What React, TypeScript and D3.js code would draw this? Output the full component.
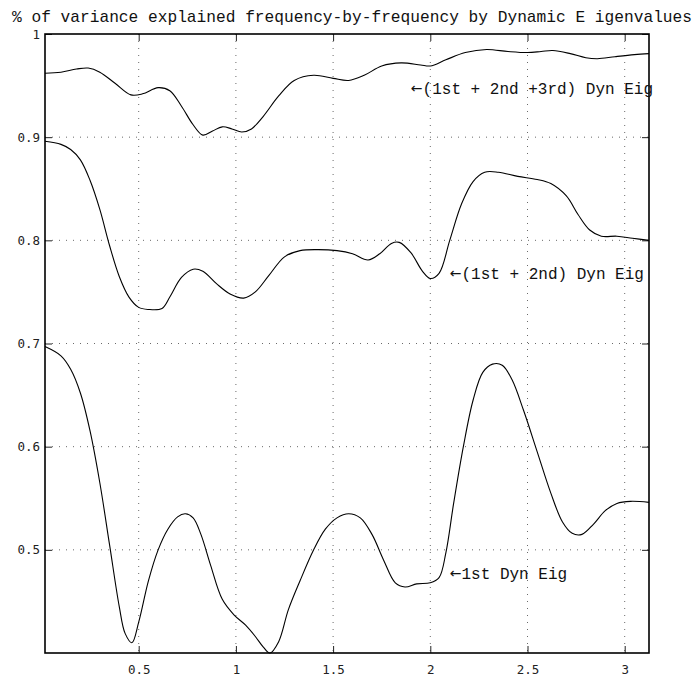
import React, { useEffect, useRef } from 'react';
import * as d3 from 'd3';

// frequencies (rad) and the cumulative % of variance for each curve
const freq1 = [0.018, 0.10, 0.15, 0.20, 0.25, 0.30, 0.35, 0.40, 0.43, 0.465, 0.50, 0.55, 0.60, 0.65, 0.70, 0.74, 0.78, 0.82, 0.87, 0.93, 0.99, 1.05, 1.10, 1.14, 1.175, 1.22, 1.27, 1.33, 1.40, 1.46, 1.52, 1.58, 1.64, 1.70, 1.76, 1.82, 1.87, 1.93, 2.00, 2.045, 2.08, 2.12, 2.17, 2.22, 2.27, 2.32, 2.37, 2.42, 2.48, 2.55, 2.62, 2.68, 2.73, 2.78, 2.84, 2.90, 2.96, 3.03, 3.125];
const eig1 = [0.697, 0.688, 0.675, 0.652, 0.615, 0.565, 0.505, 0.445, 0.419, 0.410, 0.430, 0.470, 0.500, 0.520, 0.532, 0.535, 0.531, 0.515, 0.485, 0.452, 0.437, 0.427, 0.416, 0.406, 0.400, 0.411, 0.442, 0.470, 0.500, 0.520, 0.531, 0.535, 0.531, 0.515, 0.490, 0.468, 0.464, 0.467, 0.468, 0.473, 0.497, 0.545, 0.600, 0.645, 0.672, 0.680, 0.679, 0.665, 0.635, 0.595, 0.555, 0.527, 0.516, 0.515, 0.525, 0.538, 0.545, 0.547, 0.546];

const freq2 = [0.018, 0.10, 0.15, 0.20, 0.25, 0.30, 0.35, 0.40, 0.45, 0.50, 0.55, 0.62, 0.66, 0.72, 0.78, 0.83, 0.90, 0.97, 1.04, 1.10, 1.17, 1.25, 1.33, 1.42, 1.52, 1.60, 1.68, 1.74, 1.80, 1.84, 1.90, 1.96, 2.00, 2.045, 2.10, 2.16, 2.22, 2.28, 2.35, 2.45, 2.55, 2.62, 2.70, 2.76, 2.82, 2.88, 2.96, 3.04, 3.125];
const eig12 = [0.896, 0.893, 0.888, 0.878, 0.858, 0.830, 0.795, 0.765, 0.745, 0.735, 0.733, 0.734, 0.745, 0.764, 0.772, 0.770, 0.758, 0.748, 0.744, 0.750, 0.766, 0.784, 0.790, 0.791, 0.790, 0.787, 0.781, 0.787, 0.797, 0.798, 0.788, 0.770, 0.763, 0.768, 0.800, 0.835, 0.857, 0.866, 0.866, 0.862, 0.859, 0.855, 0.843, 0.825, 0.810, 0.804, 0.804, 0.802, 0.800];

const freq3 = [0.018, 0.10, 0.18, 0.24, 0.30, 0.38, 0.46, 0.52, 0.60, 0.66, 0.72, 0.78, 0.83, 0.88, 0.93, 0.98, 1.03, 1.08, 1.14, 1.22, 1.30, 1.40, 1.50, 1.58, 1.66, 1.75, 1.85, 1.95, 2.00, 2.08, 2.18, 2.29, 2.40, 2.50, 2.57, 2.63, 2.72, 2.80, 2.86, 2.95, 3.05, 3.125];
const eig123 = [0.962, 0.963, 0.966, 0.967, 0.963, 0.952, 0.941, 0.942, 0.948, 0.945, 0.930, 0.912, 0.902, 0.906, 0.910, 0.908, 0.905, 0.908, 0.920, 0.940, 0.955, 0.960, 0.957, 0.955, 0.960, 0.969, 0.972, 0.970, 0.969, 0.975, 0.982, 0.985, 0.983, 0.982, 0.983, 0.984, 0.981, 0.977, 0.976, 0.978, 0.980, 0.981];

const xTicks = [0.5, 1, 1.5, 2, 2.5, 3];
const yTicks = [0.5, 0.6, 0.7, 0.8, 0.9, 1];

const labels = [
  { text: '(1st + 2nd +3rd) Dyn Eig', x: 1.90, y: 0.942 },
  { text: '(1st + 2nd) Dyn Eig', x: 2.10, y: 0.763 },
  { text: '1st Dyn Eig', x: 2.10, y: 0.472 },
];

const title = '% of variance explained frequency-by-frequency by Dynamic E igenvalues';

const App = () => {
  const chartRef = useRef<SVGSVGElement>(null);

  useEffect(() => {
    const svg = d3.select(chartRef.current);
    svg.selectAll('*').remove();

    const left = 45, right = 649, top = 34, bottom = 653;
    const x = d3.scaleLinear().domain([0.018, 3.125]).range([left, right]);
    const y = d3.scaleLinear().domain([0.4, 1]).range([bottom, top]);

    svg.append('rect').attr('width', 695).attr('height', 680).attr('fill', 'white');

    // dotted grid
    svg.append('g').selectAll('line').data(xTicks).enter().append('line')
      .attr('x1', d => x(d)).attr('x2', d => x(d))
      .attr('y1', top).attr('y2', bottom)
      .attr('stroke', '#444').attr('stroke-width', 0.8)
      .attr('stroke-dasharray', '1,6');
    svg.append('g').selectAll('line').data(yTicks.filter(d => d < 1)).enter().append('line')
      .attr('y1', d => y(d)).attr('y2', d => y(d))
      .attr('x1', left).attr('x2', right)
      .attr('stroke', '#444').attr('stroke-width', 0.8)
      .attr('stroke-dasharray', '1,6');

    // axes: inward ticks on all four sides
    const tick = 7;
    const axisFont = "'DejaVu Sans Mono', monospace";
    const bottomAxis = svg.append('g').attr('transform', `translate(0,${bottom})`)
      .call(d3.axisBottom(x).tickValues(xTicks).tickSizeInner(-tick).tickSizeOuter(0).tickPadding(12).tickFormat(d3.format('')));
    const leftAxis = svg.append('g').attr('transform', `translate(${left},0)`)
      .call(d3.axisLeft(y).tickValues(yTicks).tickSizeInner(-tick).tickSizeOuter(0).tickPadding(5).tickFormat(d3.format('')));
    svg.append('g').attr('transform', `translate(0,${top})`)
      .call(d3.axisTop(x).tickValues(xTicks).tickSizeInner(-tick).tickSizeOuter(0).tickFormat(() => ''));
    svg.append('g').attr('transform', `translate(${right},0)`)
      .call(d3.axisRight(y).tickValues(yTicks).tickSizeInner(-tick).tickSizeOuter(0).tickFormat(() => ''));
    svg.selectAll('.domain').remove();
    svg.selectAll('.tick line').attr('stroke', '#222');
    [bottomAxis, leftAxis].forEach(a => a.selectAll('text')
      .style('font-family', axisFont).style('font-size', '12.5px').attr('fill', '#222'));

    svg.append('rect')
      .attr('x', left).attr('y', top)
      .attr('width', right - left).attr('height', bottom - top)
      .attr('fill', 'none').attr('stroke', 'black').attr('stroke-width', 1.6);

    // curves
    const line = d3.line<[number, number]>()
      .x(d => x(d[0])).y(d => y(d[1]))
      .curve(d3.curveCatmullRom.alpha(0.5));
    [[freq1, eig1], [freq2, eig12], [freq3, eig123]].forEach(([f, v]) => {
      svg.append('path')
        .datum(f.map((d, i) => [d, v[i]] as [number, number]))
        .attr('d', line)
        .attr('fill', 'none').attr('stroke', 'black').attr('stroke-width', 1.1);
    });

    // curve labels, arrow drawn from a font with a wide glyph
    const lab = svg.selectAll('.label').data(labels).enter().append('text')
      .attr('class', 'label')
      .attr('x', d => x(d.x)).attr('y', d => y(d.y))
      .style('font-family', "'Liberation Mono', monospace")
      .style('font-size', '16px')
      .attr('fill', '#111');
    lab.append('tspan')
      .style('font-family', "'DejaVu Sans', sans-serif")
      .style('font-size', '14px')
      .attr('dy', -1)
      .text('\u2190');
    lab.append('tspan').attr('dy', 1).text(d => d.text);

    svg.append('text')
      .attr('x', 12).attr('y', 22)
      .style('font-family', "'Liberation Mono', monospace")
      .style('font-size', '16.2px')
      .attr('fill', '#111')
      .text(title);
  }, []);

  return (
    <svg ref={chartRef} width={695} height={680}
      style={{ position: 'absolute', left: 0, top: 0, display: 'block' }} />
  );
};

export default App;
